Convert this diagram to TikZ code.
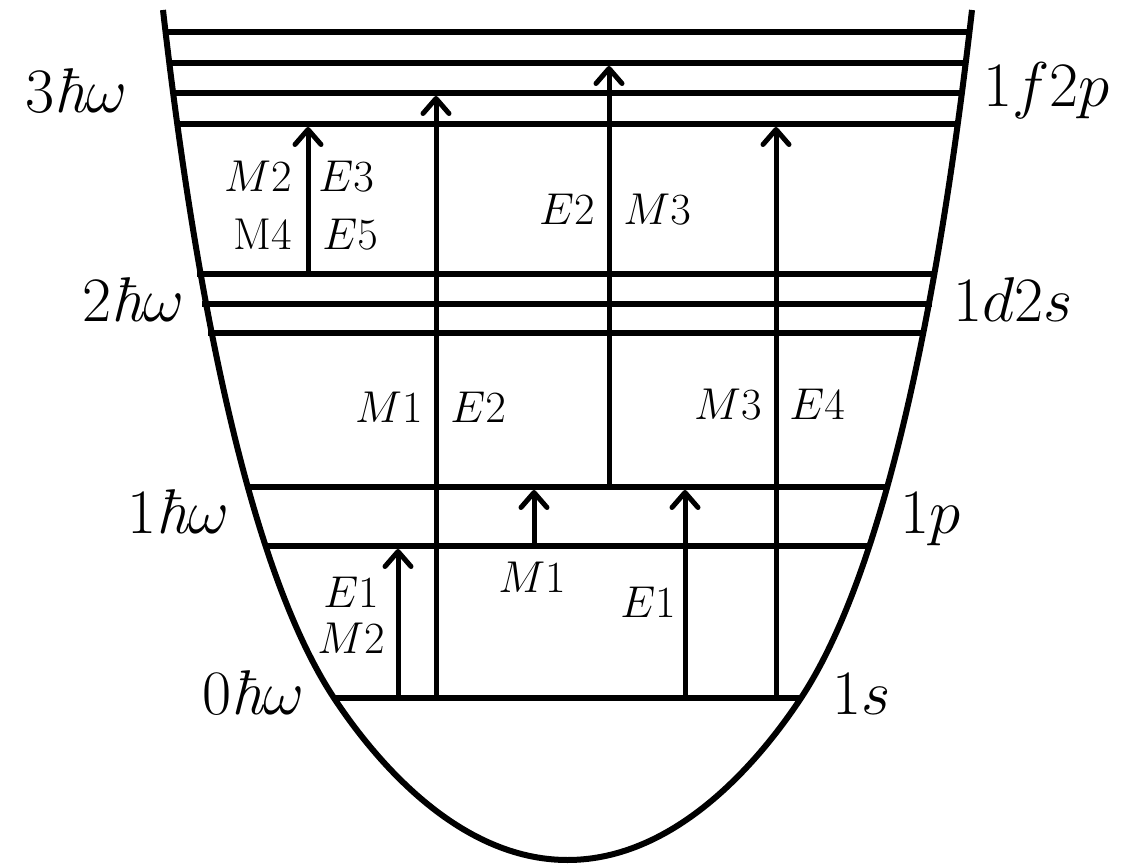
\documentclass[tikz,border=0pt]{standalone}
\usetikzlibrary{arrows.meta}
\newcommand{\hb}{\mbox{\itshape ħ}}
\begin{document}
\begin{tikzpicture}[x=1pt,y=-1pt,
  lvl/.style={line width=5.5pt},
  well/.style={line width=6pt,line join=round},
  trans/.style={line width=5pt,-{Straight Barb[round,length=15pt,width=26pt]}},
  big/.style={inner sep=0pt,font=\huge,scale=3.05},
  small/.style={inner sep=0pt,font=\huge,scale=2.15}]
\useasboundingbox (0,0) rectangle (1122,866);

% potential well
\draw[well] (163,10) .. controls (185.8,210) and (235,548) .. (334,698)
  .. controls (373.6,758) and (457.5,860) .. (567.5,860)
  .. controls (677.5,860) and (761.4,758) .. (801,698)
  .. controls (900,548) and (949.2,210) .. (972,10);

% levels 3hw
\draw[lvl] (163,32) -- (970,32);
\draw[lvl] (167,63) -- (967,63);
\draw[lvl] (171,93) -- (964,93);
\draw[lvl] (175,124) -- (960,124);
% levels 2hw
\draw[lvl] (197,274) -- (937,274);
\draw[lvl] (202,304) -- (932,304);
\draw[lvl] (208,333) -- (926,333);
% levels 1hw
\draw[lvl] (247,487) -- (888,487);
\draw[lvl] (265,546) -- (870,546);
% level 0hw
\draw[lvl] (333,698) -- (802,698);

% transitions
\draw[trans] (308,274) -- (308,127);
\draw[trans] (436,698) -- (436,96);
\draw[trans] (609,487) -- (609,66);
\draw[trans] (776,698) -- (776,127);
\draw[trans] (398,698) -- (398,549);
\draw[trans] (534,546) -- (534,490);
\draw[trans] (685,698) -- (685,490);

% shell labels
\node[big,anchor=base east] (l3) at (128,113) {$3\hb\omega$};
\node[big,anchor=base east] (l2) at (185,322) {$2\hb\omega$};
\node[big,anchor=base east] (l1) at (230,533) {$1\hb\omega$};
\node[big,anchor=base east] (l0) at (305,714) {$0\hb\omega$};
\node[big,anchor=base west] (r3) at (983,107) {$1f2p$};
\node[big,anchor=base west] (r2) at (953,322) {$1d2s$};
\node[big,anchor=base west] (r1) at (900,533) {$1p$};
\node[big,anchor=base west] (r0) at (832,714) {$1s$};

% multipolarity labels
\node[small,anchor=base east] (a1) at (292,192) {$M2$};
\node[small,anchor=base west] (a2) at (318,192) {$E3$};
\node[small,anchor=base east] (a3) at (292,250) {M4};
\node[small,anchor=base west] (a4) at (322,250) {$E5$};
\node[small,anchor=base east] (b1) at (423,423) {$M1$};
\node[small,anchor=base west] (b2) at (450,423) {$E2$};
\node[small,anchor=base east] (c1) at (595,225) {$E2$};
\node[small,anchor=base west] (c2) at (623,225) {$M3$};
\node[small,anchor=base east] (d1) at (762,420) {$M3$};
\node[small,anchor=base west] (d2) at (789,420) {$E4$};
\node[small,anchor=base] (e1) at (351,607) {$E1$};
\node[small,anchor=base] (e2) at (351,653) {$M2$};
\node[small,anchor=base] (f1) at (532,592) {$M1$};
\node[small,anchor=base] (g1) at (648,617) {$E1$};
\end{tikzpicture}
\end{document}
